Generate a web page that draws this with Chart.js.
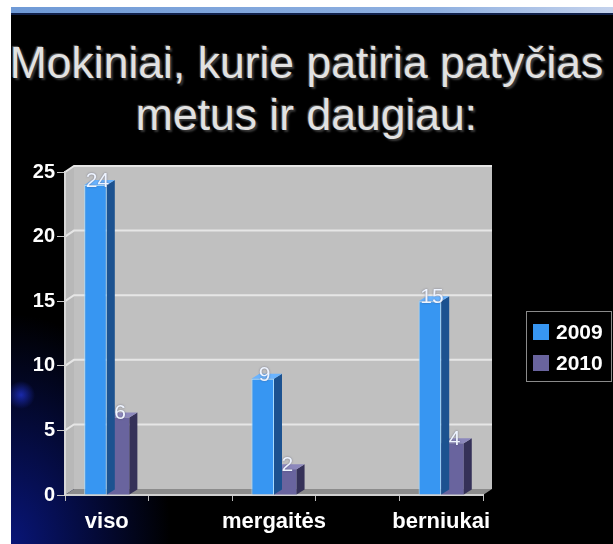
<!DOCTYPE html>
<html>
<head>
<meta charset="utf-8">
<script src="https://cdn.jsdelivr.net/npm/chart.js@4"></script>
<style>
  html, body { margin: 0; padding: 0; background: #fff; }
  #slide {
    position: absolute; left: 11px; top: 7px; width: 602px; height: 537px;
    background:
      radial-gradient(ellipse 160px 230px at 0% 100%, rgba(10, 25, 140, 0.85), rgba(0, 0, 60, 0) 100%),
      radial-gradient(circle 14px at 10px 388px, rgba(40, 60, 230, 0.8), rgba(0, 0, 0, 0) 100%),
      #000;
    overflow: hidden;
  }
  #strip {
    position: absolute; left: 0; top: 0; width: 100%; height: 6px;
    background: linear-gradient(to right, #6f9ad6, #8fb0e0 70%, #c4d2ec);
    border-bottom: 2px solid #10204a;
  }
  #title {
    position: absolute; left: -11px; top: 30px; width: 613px;
    text-align: center; color: #e2e2e2;
    font: 44.5px "Liberation Sans", Arial, sans-serif; line-height: 52px;
    text-shadow: 2px 2px 2px #3a3a3a, -1px -1px 1px #555;
  }
  #wrap { position: absolute; left: 0; top: 0; width: 613px; height: 544px; }
</style>
</head>
<body>
<div id="slide">
  <div id="strip"></div>
  <div id="title">Mokiniai, kurie patiria patyčias<br>metus ir daugiau:</div>
</div>
<div id="wrap"><canvas id="chart" width="613" height="544"></canvas></div>
<script>
const categories = ["viso", "", "mergaitės", "", "berniukai"];
const seriesNames = ["2009", "2010"];
const values2009 = [24, null, 9, null, 15];
const values2010 = [6, null, 2, null, 4];
const yTicks = [0, 5, 10, 15, 20, 25];

const colors = [
  { front: "#3796f2", side: "#1c5290", top: "#6ab4ff", edge: "#a8dcff" },
  { front: "#69649e", side: "#353158", top: "#8c88bc", edge: "#9a96c8" }
];

const DX = 9, DY = -6;   // depth of the walls
const BX = 8, BY = -5;   // depth of the bars

// grey walls, floor and back gridlines
const wallsPlugin = {
  id: "walls",
  beforeDraw(chart) {
    const { ctx, chartArea: a, scales } = chart;
    ctx.save();
    ctx.fillStyle = "#c0c0c0";
    ctx.fillRect(a.left + DX, a.top + DY, a.right - a.left, a.bottom - a.top);
    ctx.fillStyle = "#b8b8b8";
    ctx.beginPath();
    ctx.moveTo(a.left, a.top); ctx.lineTo(a.left + DX, a.top + DY);
    ctx.lineTo(a.left + DX, a.bottom + DY); ctx.lineTo(a.left, a.bottom);
    ctx.closePath(); ctx.fill();
    ctx.fillStyle = "#8c8c8c";
    ctx.beginPath();
    ctx.moveTo(a.left, a.bottom); ctx.lineTo(a.left + DX, a.bottom + DY);
    ctx.lineTo(a.right + DX, a.bottom + DY); ctx.lineTo(a.right, a.bottom);
    ctx.closePath(); ctx.fill();
    ctx.strokeStyle = "#e6e6e6";
    ctx.lineWidth = 2;
    yTicks.forEach(v => {
      if (v === 0) return;
      const y = scales.y.getPixelForValue(v);
      ctx.beginPath();
      ctx.moveTo(a.left, y); ctx.lineTo(a.left + DX, y + DY);
      ctx.lineTo(a.right + DX, y + DY);
      ctx.stroke();
    });
    ctx.restore();
  }
};

// side and top faces of each bar, plus value labels
const bars3dPlugin = {
  id: "bars3d",
  afterDatasetDraw(chart, args) {
    const { ctx } = chart;
    const c = colors[args.index];
    const meta = args.meta;
    ctx.save();
    meta.data.forEach((bar, i) => {
      const v = chart.data.datasets[args.index].data[i];
      if (v === null) return;
      const { x, y, base, width } = bar.getProps(["x", "y", "base", "width"], true);
      const l = x - width / 2, r = x + width / 2;
      ctx.fillStyle = c.side;
      ctx.beginPath();
      ctx.moveTo(r, y); ctx.lineTo(r + BX, y + BY);
      ctx.lineTo(r + BX, base + BY); ctx.lineTo(r, base);
      ctx.closePath(); ctx.fill();
      ctx.fillStyle = c.top;
      ctx.beginPath();
      ctx.moveTo(l, y); ctx.lineTo(l + BX, y + BY);
      ctx.lineTo(r + BX, y + BY); ctx.lineTo(r, y);
      ctx.closePath(); ctx.fill();
    });
    ctx.restore();
  },
  afterDatasetsDraw(chart) {
    const { ctx } = chart;
    ctx.save();
    ctx.font = "21px 'Liberation Sans', Arial, sans-serif";
    ctx.textAlign = "center";
    ctx.textBaseline = "middle";
    ctx.fillStyle = "#eef4ff";
    ctx.shadowColor = "rgba(60,60,90,0.6)";
    ctx.shadowBlur = 2;
    chart.data.datasets.forEach((ds, di) => {
      chart.getDatasetMeta(di).data.forEach((bar, i) => {
        const v = ds.data[i];
        if (v === null) return;
        ctx.fillText(String(v), bar.x + 2, bar.y - 4);
      });
    });
    ctx.restore();
  }
};

// boxed legend on the right
const legendBoxPlugin = {
  id: "legendBox",
  afterDraw(chart) {
    const { ctx } = chart;
    const left = 526, top = 311, w = 85, h = 70;
    ctx.save();
    ctx.strokeStyle = "#8a8a8a";
    ctx.lineWidth = 1;
    ctx.strokeRect(left + 0.5, top + 0.5, w, h);
    ctx.font = "bold 21px 'Liberation Sans', Arial, sans-serif";
    ctx.textBaseline = "middle";
    chart.data.datasets.forEach((ds, i) => {
      const cy = top + 21 + i * 31;
      ctx.fillStyle = ds.backgroundColor;
      ctx.fillRect(left + 7, cy - 8, 16, 16);
      ctx.fillStyle = "#fff";
      ctx.fillText(ds.label, left + 30, cy + 1);
    });
    ctx.restore();
  }
};

new Chart(document.getElementById("chart"), {
  type: "bar",
  data: {
    labels: categories,
    datasets: [
      { label: seriesNames[0], data: values2009, backgroundColor: colors[0].front,
        borderColor: colors[0].edge, borderWidth: 1, borderSkipped: "bottom" },
      { label: seriesNames[1], data: values2010, backgroundColor: colors[1].front,
        borderColor: colors[1].edge, borderWidth: 0 }
    ]
  },
  options: {
    responsive: false,
    animation: false,
    categoryPercentage: 0.54,
    barPercentage: 1,
    layout: { padding: { top: 172, right: 130, bottom: 0, left: 0 } },
    plugins: { legend: { display: false }, tooltip: { enabled: false } },
    scales: {
      x: {
        afterFit(s) { s.height = 49; },
        grid: { drawOnChartArea: false, tickLength: 6, color: "#bdbdbd" },
        border: { color: "#d0d0d0", width: 2 },
        ticks: { color: "#fff", padding: 8, autoSkip: false, minRotation: 0, maxRotation: 0,
          font: { family: "'Liberation Sans', Arial, sans-serif", size: 22, weight: "bold" } }
      },
      y: {
        min: 0, max: 25,
        afterFit(s) { s.width = 65; },
        afterBuildTicks(s) { s.ticks = yTicks.map(v => ({ value: v })); },
        grid: { drawOnChartArea: false, tickLength: 8, color: "#c8c8c8" },
        border: { color: "#d8d8d8", width: 2 },
        ticks: { color: "#fff", padding: 2,
          font: { family: "'Liberation Sans', Arial, sans-serif", size: 20, weight: "bold" } }
      }
    }
  },
  plugins: [wallsPlugin, bars3dPlugin, legendBoxPlugin]
});
</script>
</body>
</html>
